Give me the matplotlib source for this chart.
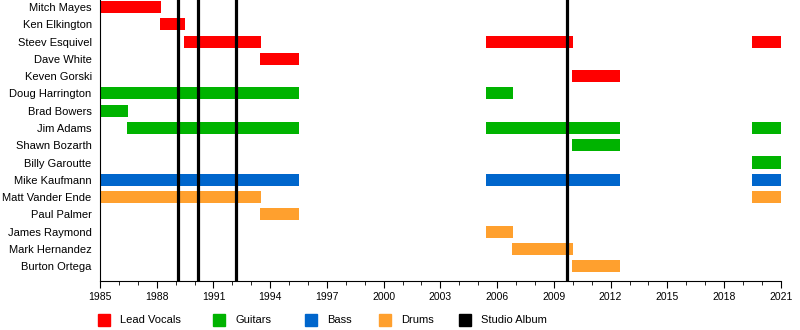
import matplotlib.pyplot as plt
from matplotlib.patches import Rectangle

plt.rcParams['font.family'] = ['Liberation Sans', 'DejaVu Sans']

members = ['Mitch Mayes', 'Ken Elkington', 'Steev Esquivel', 'Dave White',
           'Keven Gorski', 'Doug Harrington', 'Brad Bowers', 'Jim Adams',
           'Shawn Bozarth', 'Billy Garoutte', 'Mike Kaufmann',
           'Matt Vander Ende', 'Paul Palmer', 'James Raymond',
           'Mark Hernandez', 'Burton Ortega']

# (member, role, start, end)
stints = [
    ('Mitch Mayes', 'Lead Vocals', 1985.0, 1988.2),
    ('Ken Elkington', 'Lead Vocals', 1988.15, 1989.5),
    ('Steev Esquivel', 'Lead Vocals', 1989.45, 1993.5),
    ('Steev Esquivel', 'Lead Vocals', 2005.4, 2010.0),
    ('Steev Esquivel', 'Lead Vocals', 2019.5, 2021.0),
    ('Dave White', 'Lead Vocals', 1993.45, 1995.5),
    ('Keven Gorski', 'Lead Vocals', 2009.95, 2012.5),
    ('Doug Harrington', 'Guitars', 1985.0, 1995.5),
    ('Doug Harrington', 'Guitars', 2005.4, 2006.85),
    ('Brad Bowers', 'Guitars', 1985.0, 1986.5),
    ('Jim Adams', 'Guitars', 1986.45, 1995.5),
    ('Jim Adams', 'Guitars', 2005.4, 2012.5),
    ('Jim Adams', 'Guitars', 2019.5, 2021.0),
    ('Shawn Bozarth', 'Guitars', 2009.95, 2012.5),
    ('Billy Garoutte', 'Guitars', 2019.5, 2021.0),
    ('Mike Kaufmann', 'Bass', 1985.0, 1995.5),
    ('Mike Kaufmann', 'Bass', 2005.4, 2012.5),
    ('Mike Kaufmann', 'Bass', 2019.5, 2021.0),
    ('Matt Vander Ende', 'Drums', 1985.0, 1993.5),
    ('Matt Vander Ende', 'Drums', 2019.5, 2021.0),
    ('Paul Palmer', 'Drums', 1993.45, 1995.5),
    ('James Raymond', 'Drums', 2005.4, 2006.85),
    ('Mark Hernandez', 'Drums', 2006.8, 2010.0),
    ('Burton Ortega', 'Drums', 2009.95, 2012.5),
]

albums = [1989.1, 1990.2, 1992.2, 2009.7]

role_colors = {
    'Lead Vocals': '#ff0000',
    'Guitars': '#00b300',
    'Bass': '#0066cc',
    'Drums': '#ffa02e',
}

legend_labels = ['Lead Vocals', 'Guitars', 'Bass', 'Drums', 'Studio Album']
legend_colors = [role_colors['Lead Vocals'], role_colors['Guitars'],
                 role_colors['Bass'], role_colors['Drums'], 'black']
legend_x = [98, 213, 305, 379, 459]  # left edge of each key, px

fig = plt.figure(figsize=(8, 3.3), dpi=100)
ax = fig.add_axes([0.125, 0.148, 0.851, 0.852])

for name, role, start, end in stints:
    row = members.index(name)
    ax.barh(row, end - start, left=start, height=0.7,
            color=role_colors[role], linewidth=0)

for year in albums:
    ax.axvline(year, color='black', linewidth=2.3, zorder=3)

ax.set_yticks(range(len(members)))
ax.set_yticklabels(members, fontsize=8)
ax.set_ylim(15.87, -0.41)
ax.set_xlim(1985, 2021)
ax.set_xticks(range(1985, 2022, 3))
ax.set_xticks(range(1985, 2022), minor=True)
ax.tick_params(axis='x', which='major', length=5, labelsize=7.5, pad=3)
ax.tick_params(axis='x', which='minor', length=3)
ax.tick_params(axis='y', length=0, pad=6)

for side in ['top', 'right']:
    ax.spines[side].set_visible(False)

# key along the bottom edge
W, H = 800, 330
for x, label, color in zip(legend_x, legend_labels, legend_colors):
    fig.patches.append(Rectangle((x / W, 1 - 326 / H), 12 / W, 12 / H,
                                 transform=fig.transFigure, color=color))
    fig.text((x + 22) / W, 1 - 320 / H, label, fontsize=8, va='center')

fig.savefig('out.png', dpi=100)
